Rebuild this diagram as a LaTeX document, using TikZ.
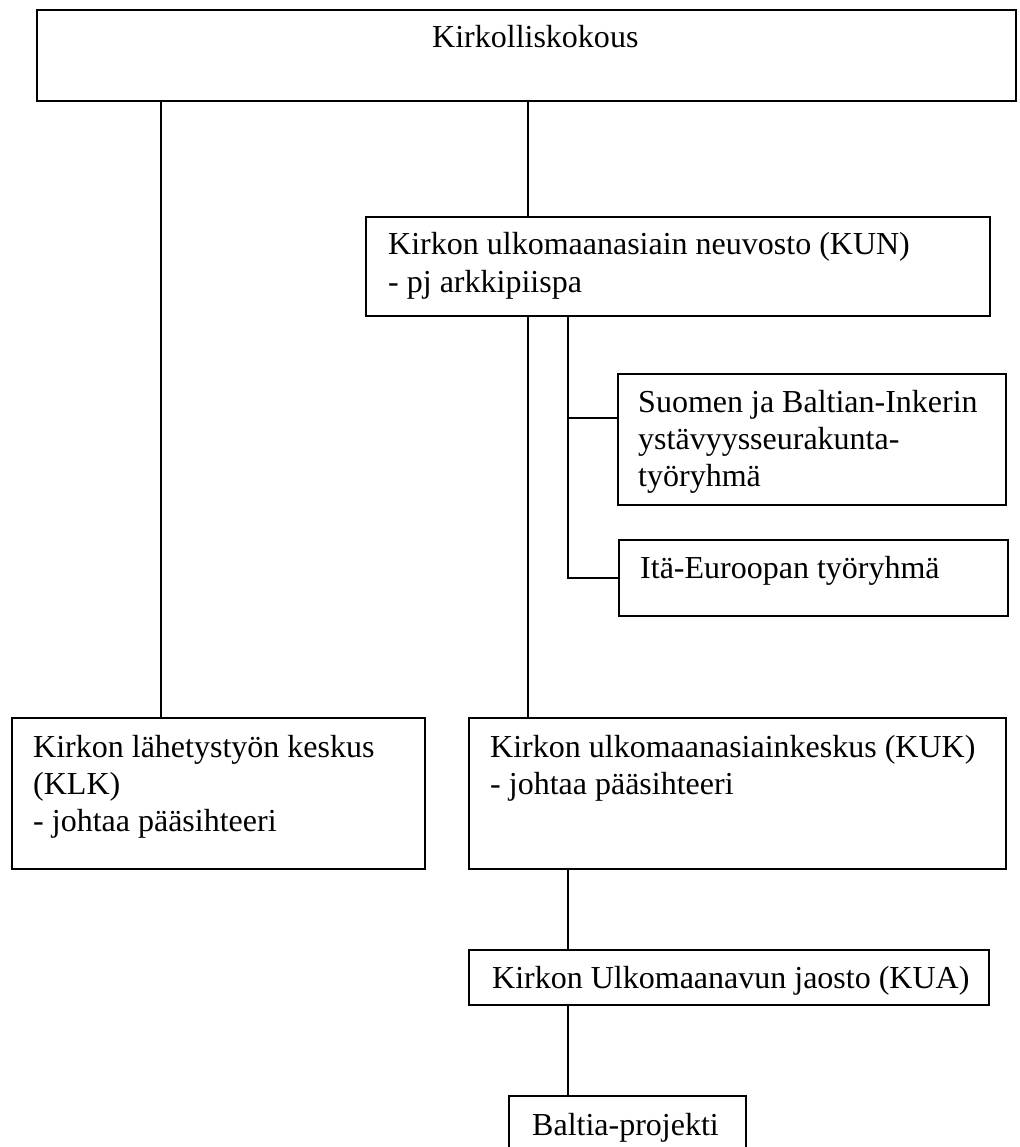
\documentclass[tikz,border=0pt]{standalone}
\usepackage{fontspec}
\setmainfont{Liberation Serif}
\begin{document}
\begin{tikzpicture}[x=1pt,y=-1pt,
  box/.style={draw=black,line width=1.8pt,inner sep=0pt,outer sep=0pt,anchor=north west,rectangle},
  conn/.style={draw=black,line width=1.5pt},
  txt/.style={anchor=base west,inner sep=0pt,font=\fontsize{32}{37}\selectfont}]
\useasboundingbox[fill=white] (0,0) rectangle (1019,1147);
% boxes
\node[box,minimum width=979pt,minimum height=91pt] (kk) at (37,10) {};
\node[box,minimum width=624pt,minimum height=99pt] (kun) at (366,217) {};
\node[box,minimum width=388pt,minimum height=131pt] (suo) at (618,374) {};
\node[box,minimum width=389pt,minimum height=76pt] (ita) at (619,540) {};
\node[box,minimum width=413pt,minimum height=151pt] (klk) at (12,718) {};
\node[box,minimum width=537pt,minimum height=151pt] (kuk) at (469,718) {};
\node[box,minimum width=520pt,minimum height=55pt] (kua) at (469,950) {};
\node[box,minimum width=237pt,minimum height=70pt] (bal) at (509,1096) {};
% texts
\node[txt] (kkT) at (432,48) {Kirkolliskokous};
\node[txt] (kunT1) at (388,255) {Kirkon ulkomaanasiain neuvosto (KUN)};
\node[txt] (kunT2) at (388,292) {- pj arkkipiispa};
\node[txt] (suoT1) at (638,412) {Suomen ja Baltian-Inkerin};
\node[txt] (suoT2) at (638,449) {ystävyysseurakunta-};
\node[txt] (suoT3) at (638,486) {työryhmä};
\node[txt] (itaT) at (640,578) {Itä-Euroopan työryhmä};
\node[txt] (klkT1) at (33,757) {Kirkon lähetystyön keskus};
\node[txt] (klkT2) at (33,794) {(KLK)};
\node[txt] (klkT3) at (33,831) {- johtaa pääsihteeri};
\node[txt] (kukT1) at (490,757) {Kirkon ulkomaanasiainkeskus (KUK)};
\node[txt] (kukT2) at (490,794) {- johtaa pääsihteeri};
\node[txt] (kuaT) at (492,988) {Kirkon Ulkomaanavun jaosto (KUA)};
\node[txt] (balT) at (532,1135) {Baltia-projekti};
% connectors
\coordinate (xl) at (161,0);
\coordinate (xm) at (528,0);
\coordinate (xr) at (568,0);
\coordinate (sb) at (618,418);
\draw[conn] (kk.south -| xl) -- (klk.north -| xl);
\draw[conn] (kk.south -| xm) -- (kun.north -| xm);
\draw[conn] (kun.south -| xm) -- (kuk.north -| xm);
\draw[conn] (kun.south -| xr) -- (ita.west -| xr) -- (ita.west);
\draw[conn] (sb -| xr) -- (sb);
\draw[conn] (kuk.south -| xr) -- (kua.north -| xr);
\draw[conn] (kua.south -| xr) -- (bal.north -| xr);
\end{tikzpicture}
\end{document}
